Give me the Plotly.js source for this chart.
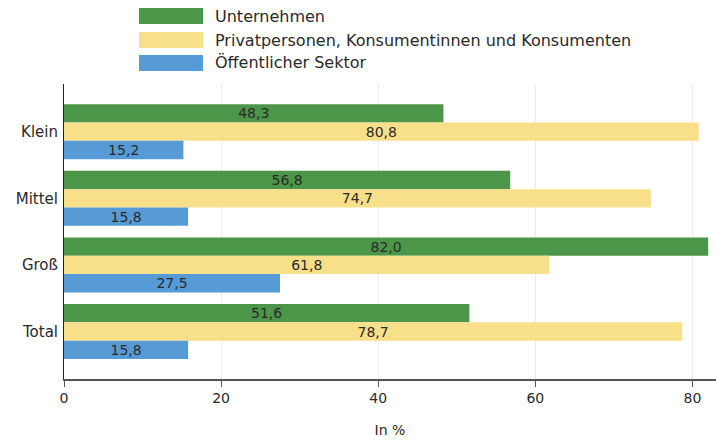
<!DOCTYPE html>
<html>
<head>
<meta charset="utf-8">
<script src="https://cdn.plot.ly/plotly-3.0.1.min.js"></script>
<style>html,body{margin:0;padding:0;background:#fff;}#chart{width:716px;height:441px;}</style>
</head>
<body>
<div id="chart"></div>
<script>
const categories = ["Klein", "Mittel", "Groß", "Total"];
const seriesNames = ["Unternehmen", "Privatpersonen, Konsumentinnen und Konsumenten", "Öffentlicher Sektor"];
const unternehmen = [48.3, 56.8, 82.0, 51.6];
const privat = [80.8, 74.7, 61.8, 78.7];
const oeffentlich = [15.2, 15.8, 27.5, 15.8];
const xTicks = [0, 20, 40, 60, 80];
const colors = ["#4B9648", "#F8DF8A", "#569BD6"];
const FONT = "'DejaVu Sans', sans-serif";

const values = [unternehmen, privat, oeffentlich];
const traces = values.map((v, i) => ({
  type: "bar",
  orientation: "h",
  name: seriesNames[i],
  y: categories,
  x: v,
  marker: {color: colors[i], line: {width: 0}},
  texttemplate: "%{x:.1f}",
  textposition: "inside",
  insidetextanchor: "middle",
  constraintext: "none",
  textfont: {family: FONT, size: 14, color: "#2a2a2a"},
  hoverinfo: "skip"
}));

// custom legend (swatches + labels) in paper coordinates
const legX0 = 0.115, legX1 = 0.2132, legTextX = 0.2285;
const legRows = [[1.2576, 1.2034], [1.1763, 1.1220], [1.0983, 1.0441]];
const shapes = legRows.map((r, i) => ({
  type: "rect", xref: "paper", yref: "paper",
  x0: legX0, x1: legX1, y0: r[1], y1: r[0],
  fillcolor: colors[i], line: {width: 0}
}));
const annotations = legRows.map((r, i) => ({
  xref: "paper", yref: "paper", x: legTextX, y: (r[0] + r[1]) / 2,
  xanchor: "left", yanchor: "middle", showarrow: false,
  text: seriesNames[i], font: {family: FONT, size: 16, color: "#2a2a2a"}
}));

const layout = {
  width: 716, height: 441,
  margin: {l: 64, r: 0, t: 84, b: 62},
  paper_bgcolor: "#fff", plot_bgcolor: "#fff",
  separators: ",.",
  barmode: "group",
  bargap: 0.174,
  bargroupgap: 0,
  showlegend: false,
  font: {family: FONT, size: 14, color: "#2a2a2a"},
  xaxis: {
    range: [0, 83],
    tickvals: xTicks,
    ticktext: xTicks.map(String),
    showgrid: true, gridcolor: "#ebebeb", gridwidth: 1,
    zeroline: false,
    showline: true, linecolor: "#555", linewidth: 1.5,
    ticks: "outside", ticklen: 6, tickcolor: "#555", tickwidth: 1,
    tickfont: {family: FONT, size: 14, color: "#2a2a2a"},
    title: {text: "In %", font: {family: FONT, size: 14, color: "#2a2a2a"}, standoff: 20}
  },
  yaxis: {
    type: "category",
    range: [3.713, -0.716],
    showgrid: false, zeroline: false,
    showline: true, linecolor: "#222", linewidth: 1,
    ticks: "", ticklabelstandoff: 2,
    tickfont: {family: FONT, size: 15, color: "#2a2a2a"}
  },
  shapes: shapes,
  annotations: annotations
};

Plotly.newPlot("chart", traces, layout, {staticPlot: true, displayModeBar: false});
</script>
</body>
</html>
